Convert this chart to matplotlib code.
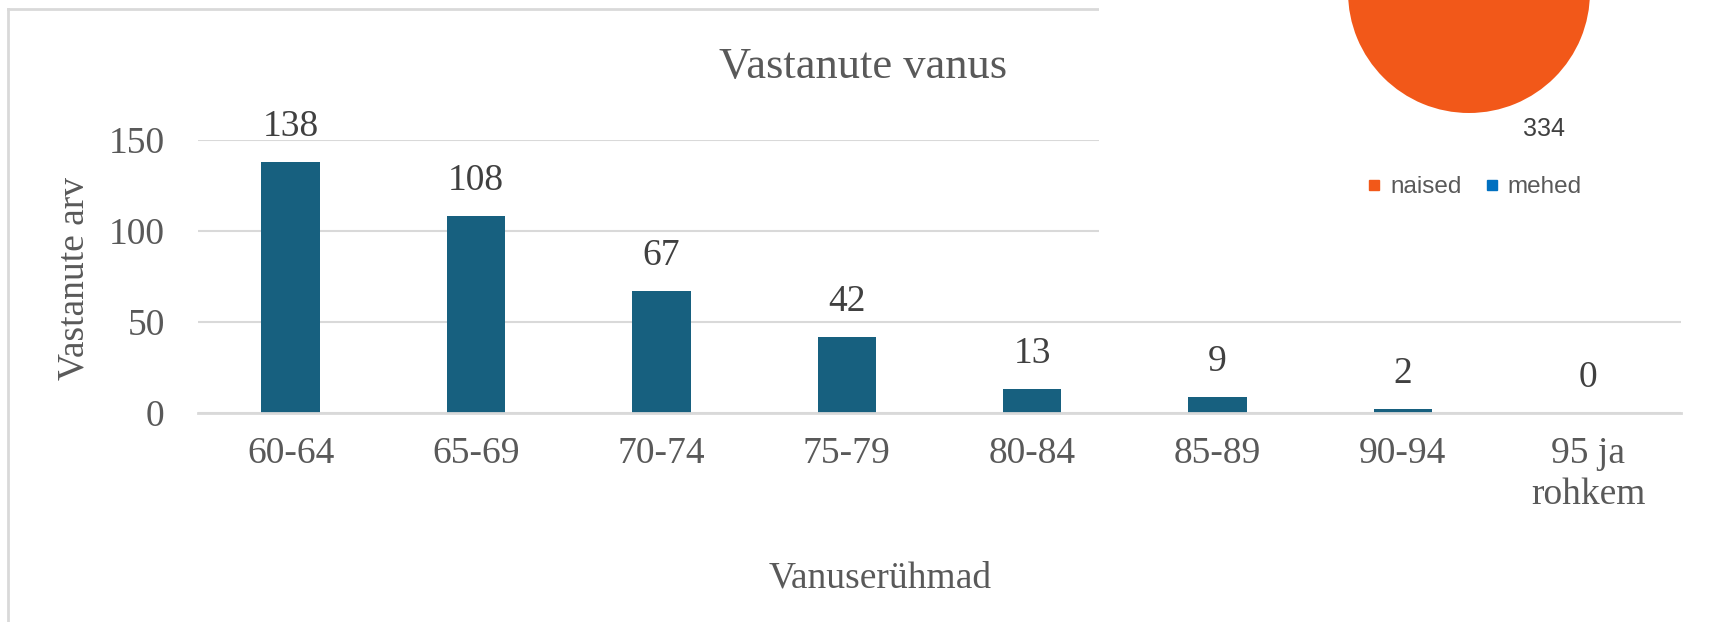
import numpy as np
import matplotlib
matplotlib.use("Agg")
import matplotlib.pyplot as plt
from matplotlib.patches import Rectangle
from matplotlib.lines import Line2D

# bar chart data
age_groups = ["60-64", "65-69", "70-74", "75-79", "80-84", "85-89", "90-94", "95 ja\nrohkem"]
counts = [138, 108, 67, 42, 13, 9, 2, 0]
y_ticks = [0, 50, 100, 150]

# pie chart data (only the naised slice is visible)
pie_labels = ["naised", "mehed"]
pie_values = [334, 0]
pie_colors = ["#F25819", "#0070C0"]

W, H = 1714, 622
plt.rcParams['font.family'] = ['Liberation Serif', 'DejaVu Serif']

fig = plt.figure(figsize=(W / 100, H / 100), dpi=100)
fig.patch.set_facecolor("white")

def fx(px):
	return px / W

def fy(px):
	#pixel measured from top -> figure fraction
	return 1 - px / H

#bar chart axes
ax = fig.add_axes([fx(198), fy(413), fx(1681 - 198), (413 - 140) / H])
x = np.arange(len(age_groups))
bars = ax.bar(x, counts, width=0.315, color="#17607F", zorder=3)
ax.set_xlim(-0.5, len(age_groups) - 0.5)
ax.set_ylim(0, 150)
ax.set_yticks(y_ticks)
ax.set_xticks(x)
ax.set_xticklabels(age_groups, linespacing=1.25)
ax.tick_params(axis="y", length=0, pad=24, labelsize=27, labelcolor="#595959")
ax.tick_params(axis="x", length=0, pad=17, labelsize=27, labelcolor="#595959")
ax.grid(axis="y", color="#D9D9D9", linewidth=1.5, zorder=0)
for s in ["top", "right", "left"]:
	ax.spines[s].set_visible(False)
ax.spines["bottom"].set_color("#D9D9D9")
ax.spines["bottom"].set_linewidth(2)
ax.spines["bottom"].set_zorder(4)
ax.bar_label(bars, padding=13, fontsize=27, color="#404040")

#titles
fig.text(fx(863), fy(78), "Vastanute vanus", ha="center", va="baseline",
	fontsize=32, color="#595959")
fig.text(fx(74), fy(278), "Vastanute arv", rotation=90, ha="center", va="center",
	fontsize=27, color="#595959")
fig.text(fx(880), fy(587), "Vanuserühmad", ha="center", va="baseline",
	fontsize=27, color="#595959")

#chart frame (left and top border)
fig.add_artist(Line2D([fx(8), fx(8)], [fy(9), 0], color="#D9D9D9", linewidth=2))
fig.add_artist(Line2D([fx(8), fx(1098)], [fy(9), fy(9)], color="#D9D9D9", linewidth=2))

#white area of the pie chart on top
fig.add_artist(Rectangle((fx(1099), fy(300)), 1 - fx(1099), 300 / H,
	facecolor="white", edgecolor="none", zorder=5))

#pie chart
r = 121
pax = fig.add_axes([fx(1469 - r), (H + 8 - r) / H, fx(2 * r), 2 * r / H], zorder=6)
pax.pie(pie_values, colors=pie_colors, startangle=90, counterclock=False)
pax.set_xlim(-1, 1)
pax.set_ylim(-1, 1)
pax.set_aspect("equal")
pax.axis("off")
fig.text(fx(1544), fy(129), str(pie_values[0]), ha="center", va="center",
	fontsize=18, color="#404040", family="Liberation Sans", zorder=7)

handles = [Line2D([], [], marker="s", linestyle="none", markersize=6.5,
	markerfacecolor=c, markeredgecolor=c) for c in pie_colors]
leg = fig.legend(handles, pie_labels, loc="center", bbox_to_anchor=(fx(1475), fy(187)),
	ncol=2, frameon=False, handlelength=0.5, handletextpad=0.4, columnspacing=1.0,
	prop={"family": "Liberation Sans", "size": 17.5})
leg.set_zorder(7)
for t in leg.get_texts():
	t.set_color("#595959")

plt.savefig("out.png", dpi=100)
